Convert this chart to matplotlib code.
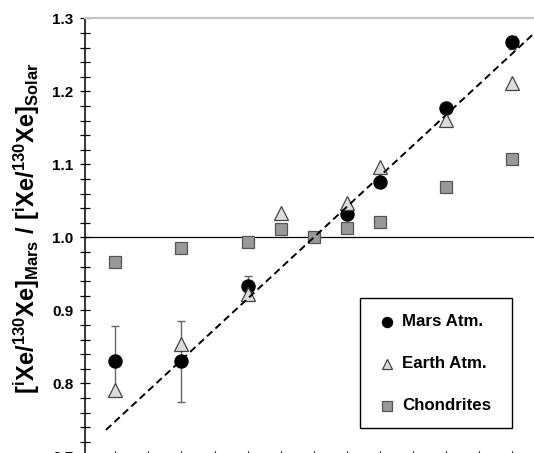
import matplotlib
matplotlib.use("Agg")
import matplotlib.pyplot as plt
import numpy as np
from matplotlib.ticker import MultipleLocator
from matplotlib.patches import Rectangle
from matplotlib.lines import Line2D

# ---- data ----
mass = [124, 126, 128, 129, 130, 131, 132, 134, 136]

mars_mass = [124, 126, 128, 131, 132, 134, 136]
mars_val = [0.830, 0.830, 0.933, 1.032, 1.076, 1.177, 1.267]
mars_err = [0.048, 0.055, 0.014, 0.0, 0.0, 0.0, 0.009]

earth_mass = [124, 126, 128, 129, 131, 132, 134, 136]
earth_val = [0.791, 0.854, 0.922, 1.033, 1.047, 1.096, 1.161, 1.211]

chond_mass = [124, 126, 128, 129, 130, 131, 132, 134, 136]
chond_val = [0.966, 0.985, 0.994, 1.011, 1.000, 1.013, 1.021, 1.069, 1.107]

frac_slope = 0.042        # per amu, through (130, 1.0)
frac_range = [123.72, 136.65]

yticks = [0.7, 0.8, 0.9, 1.0, 1.1, 1.2, 1.3]
labels = ["Mars Atm.", "Earth Atm.", "Chondrites"]

# ---- style ----
plt.rcParams['font.family'] = ['Liberation Sans', 'DejaVu Sans']
plt.rcParams['font.weight'] = 'bold'
plt.rcParams['mathtext.fontset'] = 'custom'
plt.rcParams['mathtext.rm'] = 'Liberation Sans:bold'
plt.rcParams['mathtext.it'] = 'Liberation Sans:bold'
plt.rcParams['mathtext.bf'] = 'Liberation Sans:bold'
plt.rcParams['mathtext.sf'] = 'Liberation Sans:bold'
plt.rcParams['mathtext.default'] = 'rm'

W, H = 534, 453
fig = plt.figure(figsize=(W / 100, H / 100), dpi=100)
ax = fig.add_axes([0.1601, -0.0073, 1.0 - 0.1601, 0.9669])

ax.set_xlim(123.1, 136.65)
ax.set_ylim(0.7, 1.3)

# reference lines
ax.axhline(1.0, color='black', lw=0.9, zorder=1)
fx = np.array(frac_range)
ax.plot(fx, 1.0 + frac_slope * (fx - 130), color='black', lw=1.4,
        dashes=(3.7, 2.2), zorder=5)

# Mars
ax.errorbar(mars_mass, mars_val, yerr=mars_err, fmt='none', ecolor='#666666',
             elinewidth=1.0, capsize=2.6, capthick=1.0, zorder=2)
ax.plot(mars_mass, mars_val, 'o', color='black', ms=9.4, ls='none', zorder=3)
# Earth
earth_style = dict(marker='^', mfc='#dcdcdc', mec='#444444', mew=0.9)
ax.plot(earth_mass, earth_val, ls='none', ms=9.6, zorder=4, **earth_style)
# Chondrites
chond_style = dict(marker='s', mfc='#999999', mec='#555555', mew=0.9)
ax.plot(chond_mass, chond_val, ls='none', ms=8.6, zorder=4, **chond_style)

# axes styling
ax.spines['right'].set_visible(False)
ax.spines['top'].set_color('#c4c4c4')
ax.spines['top'].set_linewidth(1.6)
ax.spines['left'].set_linewidth(1.1)
ax.spines['bottom'].set_linewidth(1.1)

ax.set_yticks(yticks)
ax.yaxis.set_minor_locator(MultipleLocator(0.02))
ax.set_yticklabels([f"{v:.1f}" for v in yticks], fontsize=11, fontweight='bold')
ax.tick_params(axis='y', which='both', direction='inout', length=6.5,
               width=0.9, pad=5.6)
ax.set_xticks(np.arange(124, 137))
ax.set_xticklabels([])
ax.tick_params(axis='x', which='both', direction='in', length=3.5, width=0.8)

ax.set_ylabel(r'$[^{i}Xe/^{130}Xe]_{Mars}\ /\ [^{i}Xe/^{130}Xe]_{Solar}$',
              fontsize=17)
ax.yaxis.set_label_coords(-0.097, 0.52)

# ---- manual legend (figure pixel positions) ----
def fx_(px):
    return px / W

def fy_(py):
    return 1 - py / H

fig.patches.append(Rectangle((fx_(360), fy_(428)), fx_(512) - fx_(360),
                             fy_(298) - fy_(428), transform=fig.transFigure,
                             facecolor='white', edgecolor='black', lw=1.0,
                             zorder=10))
handles = [dict(marker='o', mfc='black', mec='black', ms=7.2),
           dict(ms=7.6, **earth_style),
           dict(ms=7.0, **chond_style)]
rows = [322, 364, 406]
for lab, hs, ry in zip(labels, handles, rows):
    fig.lines.append(Line2D([fx_(387)], [fy_(ry)], transform=fig.transFigure,
                            ls='none', zorder=11, **hs))
    fig.text(fx_(402), fy_(ry), lab, fontsize=12.2, fontweight='bold',
             va='center', ha='left', zorder=11)

fig.savefig('out.png', dpi=100)
